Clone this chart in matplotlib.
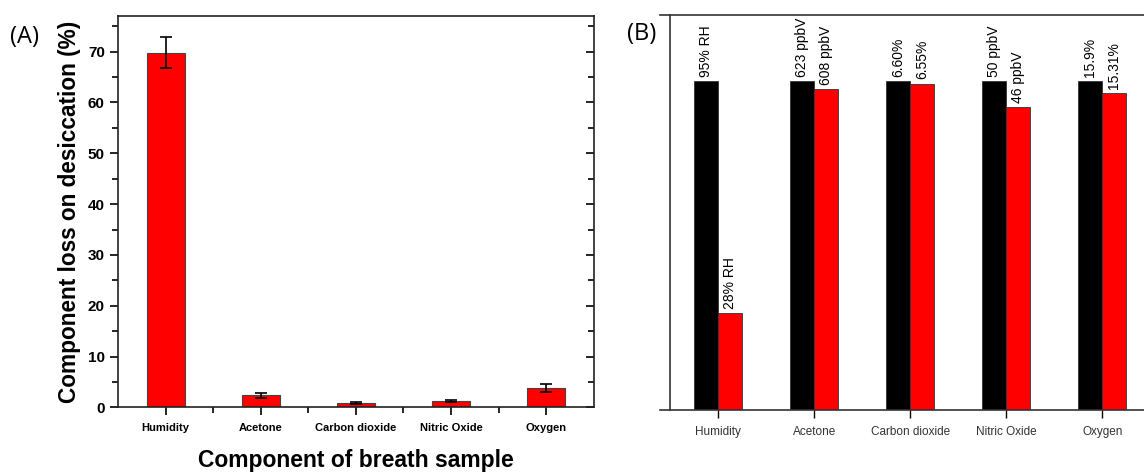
import matplotlib
matplotlib.use('Agg')
import matplotlib.pyplot as plt
import numpy as np
from matplotlib.ticker import MultipleLocator, FixedLocator

plt.rcParams['font.family'] = ['Liberation Sans', 'DejaVu Sans']

components = ['Humidity', 'Acetone', 'Carbon dioxide', 'Nitric Oxide', 'Oxygen']

# panel A: loss on desiccation (%)
loss = [69.8, 2.4, 0.8, 1.3, 3.8]
loss_err = [3.0, 0.5, 0.2, 0.15, 0.75]

# panel B: before / after desiccation (bar heights relative to "before")
before_rel = [1.0, 1.0, 1.0, 1.0, 1.0]
after_rel = [28 / 95, 608 / 623, 6.55 / 6.60, 46 / 50, 15.31 / 15.9]
before_labels = ['95% RH', '623 ppbV', '6.60%', '50 ppbV', '15.9%']
after_labels = ['28% RH', '608 ppbV', '6.55%', '46 ppbV', '15.31%']

fig = plt.figure(figsize=(11.44, 4.74), dpi=100)

# ---- Panel A
ax = fig.add_axes([0.1031, 0.1403, 0.416, 0.826])
x = np.arange(len(components))
ax.bar(x, loss, width=0.4, color='#ff0000', edgecolor='#444444', linewidth=0.8,
       yerr=loss_err, capsize=4, error_kw=dict(ecolor='black', elinewidth=1.2, capthick=1.2))
ax.set_xlim(-0.5, 4.5)
ax.set_ylim(0, 77)
ax.set_xticks(x)
ax.set_xticklabels(components, fontsize=8, fontweight='bold')
ax.xaxis.set_minor_locator(FixedLocator(x[:-1] + 0.5))
ax.yaxis.set_major_locator(MultipleLocator(10))
ax.yaxis.set_minor_locator(MultipleLocator(5))
for lab in ax.get_yticklabels():
    lab.set_fontweight('bold')
ax.tick_params(axis='y', which='both', labelsize=11, right=True, direction='out', width=1.2)
ax.tick_params(axis='y', which='major', length=6)
ax.tick_params(axis='y', which='minor', length=4)
ax.tick_params(axis='x', which='major', length=6, width=1.2, pad=5)
ax.tick_params(axis='x', which='minor', length=4, width=1.2)
for s in ax.spines.values():
    s.set_linewidth(1.2)
    s.set_color('#222222')
# right side ticks point inward
for t in ax.yaxis.get_major_ticks() + ax.yaxis.get_minor_ticks():
    t.tick2line.set_marker(matplotlib.lines.TICKLEFT)
ax.set_ylabel('Component loss on desiccation (%)', fontsize=16.3, fontweight='bold', labelpad=5)
ax.set_xlabel('Component of breath sample', fontsize=16.5, fontweight='bold', labelpad=12)
fig.text(0.009, 0.91, '(A)', fontsize=17, family=['Open Sans', 'DejaVu Sans'])

# ---- Panel B
bx = fig.add_axes([0.5773, 0.1340, 0.4283, 0.8340])
w = 0.25
bx.bar(x - w / 2, before_rel, width=w, color='black', edgecolor='#333333', linewidth=0.6)
bx.bar(x + w / 2, after_rel, width=w, color='#ff0000', edgecolor='#333333', linewidth=0.6)
for xi, v, t in zip(x - w / 2, before_rel, before_labels):
    bx.annotate(t, (xi, v), xytext=(0, 3), textcoords='offset points', rotation=90,
                ha='center', va='bottom', fontsize=10)
for xi, v, t in zip(x + w / 2, after_rel, after_labels):
    bx.annotate(t, (xi, v), xytext=(0, 3), textcoords='offset points', rotation=90,
                ha='center', va='bottom', fontsize=10)
bx.set_xlim(-0.6, 4.5)
bx.set_ylim(0, 1.20)
bx.set_xticks(x)
bx.set_xticklabels(components, fontsize=8.5, color='#333333')
bx.set_yticks([])
bx.tick_params(axis='x', length=6, width=1.0, pad=5)
bx.spines['left'].set_position(('data', -0.5))
bx.spines['right'].set_visible(False)
for s in bx.spines.values():
    s.set_linewidth(1.2)
    s.set_color('#333333')
fig.text(0.548, 0.915, '(B)', fontsize=17, family=['Open Sans', 'DejaVu Sans'])

fig.savefig('out.png', dpi=100)
